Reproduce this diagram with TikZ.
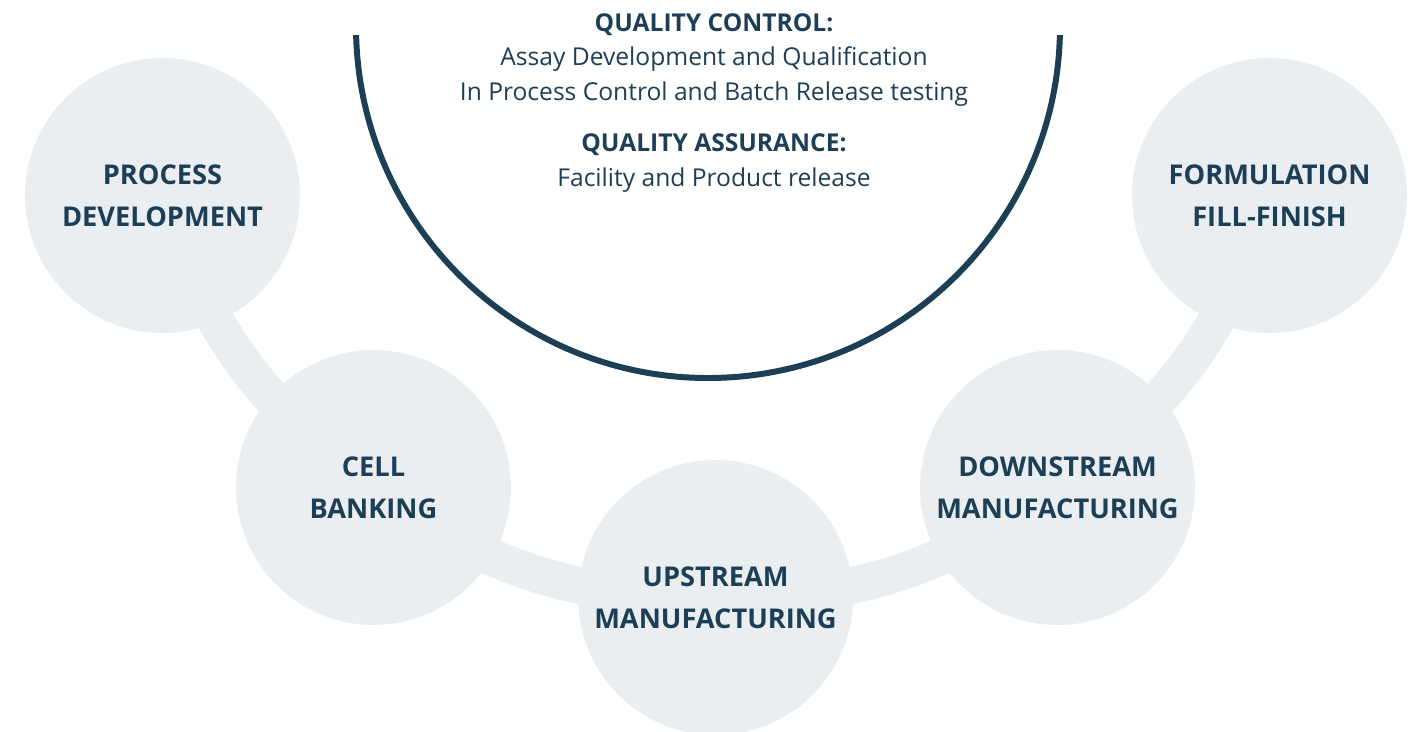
\documentclass[tikz,border=0pt]{standalone}
\usepackage{fontspec}
\setmainfont{Open Sans}
\usetikzlibrary{positioning, backgrounds}
\definecolor{navy}{RGB}{28,63,85}
\definecolor{mist}{RGB}{235,238,241}

\begin{document}
\begin{tikzpicture}[
    x=0.02cm, y=-0.02cm,
    stage/.style={circle, fill=mist, minimum size=5.5cm, inner sep=0pt, align=center,
      text=navy, font=\fontsize{15.5}{23.8}\selectfont\bfseries},
    link/.style={draw=mist, line width=0.74cm},
    qtext/.style={align=center, text=navy, inner sep=0pt,
      font=\fontsize{14}{19.6}\selectfont},
  ]
  \useasboundingbox (0,0) rectangle (1413,731);

  % quality ring, cut at the top
  \begin{scope}
    \clip (0,35) rectangle (1413,740);
    \draw[navy, line width=3.4pt] (708,26) circle [radius=352];
  \end{scope}

  \node[qtext] (qc) at (714,60) {\textbf{QUALITY CONTROL:}\\Assay Development and Qualification\\In Process Control and Batch Release testing};
  \node[qtext] (qa) at (714,163) {\textbf{QUALITY ASSURANCE:}\\Facility and Product release};

  \node[stage] (pd)   at (162.5,195.5)  {PROCESS\\DEVELOPMENT};
  \node[stage] (cb)   at (373.5,487.5)  {CELL\\BANKING};
  \node[stage] (up)   at (715.5,597.5)  {UPSTREAM\\MANUFACTURING};
  \node[stage] (down) at (1057.5,487.5) {DOWNSTREAM\\MANUFACTURING};
  \node[stage] (form) at (1269.5,195.5) {FORMULATION\\FILL-FINISH};

  \begin{scope}[on background layer]
    \draw[link] (pd.center) to[bend right=18] (cb.center);
    \draw[link] (cb.center) to[bend right=18] (up.center);
    \draw[link] (up.center) to[bend right=18] (down.center);
    \draw[link] (down.center) to[bend right=18] (form.center);
  \end{scope}
\end{tikzpicture}
\end{document}
